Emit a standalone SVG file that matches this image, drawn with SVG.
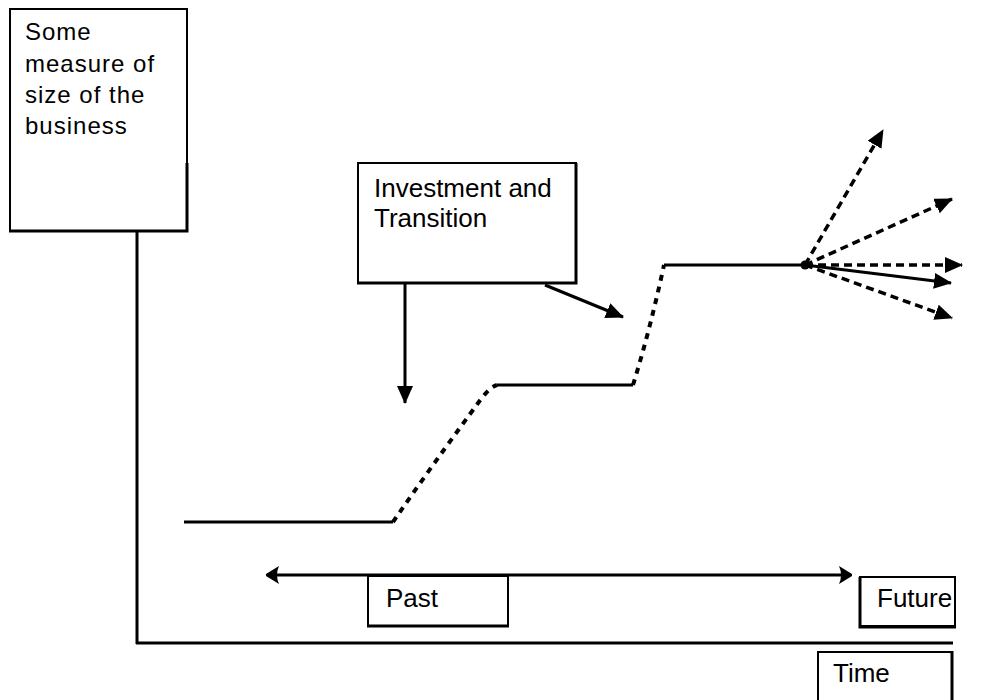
<svg xmlns="http://www.w3.org/2000/svg" width="990" height="700" viewBox="0 0 990 700">
<defs>
<style>
.box{fill:#fff;stroke:#000;stroke-width:2}
.edge{fill:none;stroke:#000;stroke-width:3}
.t{font-family:"Liberation Sans",Arial,sans-serif;font-size:26px;fill:#000}
.t2{font-family:"Liberation Sans",Arial,sans-serif;font-size:24px;fill:#000;letter-spacing:1px}
.ln{fill:none;stroke:#000;stroke-width:3}
.dash{fill:none;stroke:#000;stroke-width:3.5;stroke-dasharray:8 5}
.rise{fill:none;stroke:#000;stroke-width:4;stroke-dasharray:6 6}
</style>
<marker id="ah" markerUnits="userSpaceOnUse" markerWidth="18" markerHeight="16" viewBox="0 0 18 16" refX="17" refY="8" orient="auto">
<path d="M0,0 L18,8 L0,16 Z" fill="#000"/>
</marker>
<marker id="ahs" markerUnits="userSpaceOnUse" markerWidth="14" markerHeight="18" viewBox="0 0 14 18" refX="13" refY="9" orient="auto-start-reverse">
<path d="M1,0 Q5,9 1,18 L14,10 L14,8 Z" fill="#000"/>
</marker>
</defs>

<g id="connectors">
<line class="ln" x1="137" y1="231" x2="137" y2="644"/>
<line class="ln" x1="136" y1="643" x2="953" y2="643"/>
<line x1="267" y1="575" x2="851" y2="575" stroke="#000" stroke-width="3" marker-start="url(#ahs)" marker-end="url(#ahs)"/>
<line class="ln" x1="405" y1="283" x2="405" y2="403" marker-end="url(#ah)"/>
<line class="ln" x1="545" y1="285" x2="623" y2="317" marker-end="url(#ah)"/>
<line class="ln" x1="184" y1="522" x2="393" y2="522"/>
<path class="rise" d="M393,522 C415,490 440,455 462,425 S488,388 497,385"/>
<line class="ln" x1="497" y1="385" x2="633" y2="385"/>
<path class="rise" d="M633,385 Q650,330 664,265"/>
<line class="ln" x1="664" y1="265" x2="806" y2="265"/>
<circle cx="805" cy="265" r="4.5" fill="#000"/>
<line class="dash" x1="805" y1="265" x2="883" y2="130" marker-end="url(#ah)"/>
<line class="dash" x1="805" y1="265" x2="952" y2="199" marker-end="url(#ah)"/>
<line class="dash" x1="805" y1="265" x2="962" y2="265" marker-end="url(#ah)"/>
<line class="ln" x1="805" y1="265" x2="951" y2="283" marker-end="url(#ah)"/>
<line class="dash" x1="805" y1="265" x2="952" y2="318" marker-end="url(#ah)"/>
</g>

<g id="yaxis-label">
<rect class="box" x="10" y="9" width="177" height="222"/>
<path class="edge" d="M187,163 L187,231 L9,231"/>
<text class="t2" x="25" y="40">Some</text>
<text class="t2" x="25" y="72">measure of</text>
<text class="t2" x="25" y="103">size of the</text>
<text class="t2" x="25" y="134">business</text>
</g>

<g id="investment">
<rect class="box" x="358" y="163" width="218" height="120"/>
<path class="edge" d="M576,163 L576,283 L357,283"/>
<text class="t" x="374" y="197">Investment and</text>
<text class="t" x="374" y="227">Transition</text>
</g>

<g id="past">
<rect class="box" x="368" y="576" width="140" height="50"/>
<path class="edge" d="M367,626 L509,626"/>
<text class="t" x="386" y="607">Past</text>
</g>

<g id="future">
<rect class="box" x="860" y="577" width="95" height="49"/>
<path class="edge" d="M860,577 L860,627 L956,627"/>
<text class="t" x="877" y="607">Future</text>
</g>

<g id="time">
<rect class="box" x="818" y="652" width="134" height="60"/>
<path class="edge" d="M952,651 L952,700"/>
<text class="t" x="833" y="682">Time</text>
</g>
</svg>
